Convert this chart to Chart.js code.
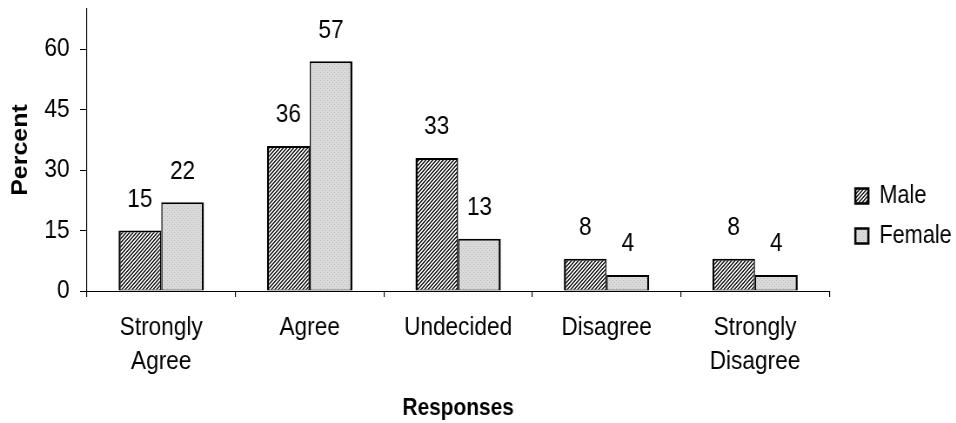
<!DOCTYPE html>
<html>
<head>
<meta charset="utf-8">
<script src="https://cdn.jsdelivr.net/npm/chart.js@4/dist/chart.umd.min.js"></script>
<style>
  html, body { margin: 0; padding: 0; background: #fff; overflow: hidden; }
  /* The chart is laid out on a wider canvas and narrowed on screen,
     which gives the tall, condensed lettering of the original figure. */
  canvas { display: block; transform: scaleX(0.87); transform-origin: 0 0; }
</style>
</head>
<body>
<canvas id="chart" width="1099" height="423"></canvas>
<script>
// Survey responses by gender (percent)
const categories = [['Strongly', 'Agree'], 'Agree', 'Undecided', 'Disagree', ['Strongly', 'Disagree']];
const maleValues = [15, 36, 33, 8, 8];
const femaleValues = [22, 57, 13, 4, 4];
const seriesNames = ['Male', 'Female'];
const yTickStep = 15;
const yMax = 70;

const FONT = '"Liberation Sans", Arial, Helvetica, sans-serif';
Chart.defaults.font.family = FONT;
Chart.defaults.color = '#000';

const canvas = document.getElementById('chart');
const ctx = canvas.getContext('2d');

// Fine diagonal hatch fill
function hatchPattern() {
  const c = document.createElement('canvas');
  c.width = 4; c.height = 4;
  const g = c.getContext('2d');
  g.fillStyle = '#ececec';
  g.fillRect(0, 0, 4, 4);
  g.fillStyle = '#2c2c2c';
  for (let y = 0; y < 4; y++) {
    for (let x = 0; x < 4; x++) {
      if ((x + y) % 4 < 2) g.fillRect(x, y, 1, 1);
    }
  }
  return ctx.createPattern(c, 'repeat');
}

// Light grey fill with a faint dot grid
function dotPattern() {
  const c = document.createElement('canvas');
  c.width = 4; c.height = 4;
  const g = c.getContext('2d');
  g.fillStyle = '#dadada';
  g.fillRect(0, 0, 4, 4);
  g.fillStyle = '#bdbdbd';
  g.fillRect(0, 0, 1, 1);
  g.fillRect(2, 2, 1, 1);
  return ctx.createPattern(c, 'repeat');
}

const maleFill = hatchPattern();
const femaleFill = dotPattern();

// Value labels above each bar
const valueLabels = {
  id: 'valueLabels',
  afterDatasetsDraw(chart) {
    const c = chart.ctx;
    c.save();
    c.font = '26px ' + FONT;
    c.fillStyle = '#000';
    c.textAlign = 'center';
    c.textBaseline = 'middle';
    chart.data.datasets.forEach((ds, i) => {
      chart.getDatasetMeta(i).data.forEach((bar, j) => {
        c.fillText(String(ds.data[j]), bar.x, bar.y - 31);
      });
    });
    c.restore();
  }
};

// Leave a gap between the plot area and the legend
const legendGap = {
  id: 'legendGap',
  afterLayout(chart) {
    const lg = chart.legend;
    if (!lg) return;
    const w = lg.right - lg.left;
    lg.left = chart.chartArea.right + 15;
    lg.right = lg.left + w;
  }
};

new Chart(canvas, {
  type: 'bar',
  data: {
    labels: categories,
    datasets: [
      {
        label: seriesNames[0],
        data: maleValues,
        backgroundColor: maleFill,
        borderColor: '#000',
        borderWidth: { top: 2, left: 2.5, right: 1.5, bottom: 1 },
        borderSkipped: false
      },
      {
        label: seriesNames[1],
        data: femaleValues,
        backgroundColor: femaleFill,
        borderColor: '#000',
        borderWidth: { top: 2, left: 1.5, right: 2.5, bottom: 1 },
        borderSkipped: false
      }
    ]
  },
  options: {
    responsive: false,
    animation: false,
    events: [],
    layout: { padding: { top: 9, right: 10, bottom: 0, left: 0 } },
    datasets: {
      bar: { barPercentage: 1.0, categoryPercentage: 0.575 }
    },
    scales: {
      x: {
        ticks: {
          padding: 14,
          font: { size: 26, lineHeight: 1.31 },
          color: '#000',
          maxRotation: 0,
          autoSkip: false
        },
        grid: { offset: true, drawOnChartArea: false, drawTicks: true, tickLength: 6, lineWidth: 1.15, color: '#000' },
        border: { display: true, color: '#000', width: 1 },
        title: {
          display: true,
          text: 'Responses',
          font: { size: 24, weight: 'bold' },
          padding: { top: 0, bottom: 0 }
        },
        afterFit(scale) { scale.height = 132; }
      },
      y: {
        min: 0,
        max: yMax,
        ticks: {
          stepSize: yTickStep,
          includeBounds: false,
          padding: 12,
          font: { size: 26 },
          color: '#000'
        },
        grid: { drawOnChartArea: false, drawTicks: true, tickLength: 8, color: '#000' },
        border: { display: true, color: '#000', width: 1.15 },
        title: {
          display: true,
          text: 'Percent',
          font: { size: 25, weight: 'bold' },
          padding: { top: 9, bottom: 0 }
        },
        afterFit(scale) { scale.width = 100; scale.paddingTop = 0; }
      }
    },
    plugins: {
      tooltip: { enabled: false },
      legend: {
        position: 'right',
        align: 'center',
        labels: {
          boxWidth: 15,
          boxHeight: 15,
          padding: 15,
          font: { size: 25 },
          color: '#000',
          generateLabels(chart) {
            return chart.data.datasets.map((ds, i) => ({
              text: ds.label,
              fillStyle: ds.backgroundColor,
              strokeStyle: '#000',
              lineWidth: 2.5,
              hidden: false,
              datasetIndex: i
            }));
          }
        }
      }
    }
  },
  plugins: [valueLabels, legendGap]
});
</script>
</body>
</html>
